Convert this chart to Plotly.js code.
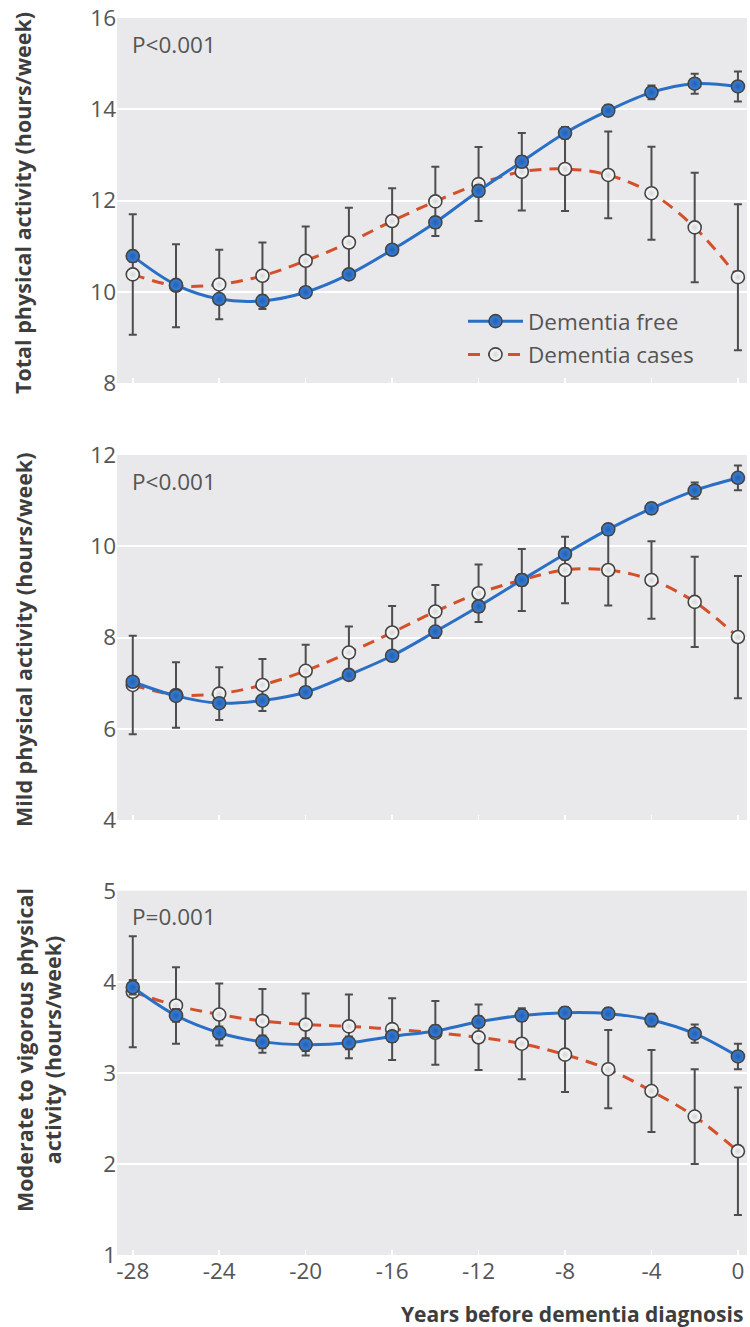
<!DOCTYPE html>
<html>
<head>
<meta charset="utf-8">
<script src="https://cdn.plot.ly/plotly-3.0.1.min.js"></script>
<style>html,body{margin:0;padding:0;background:#fff;}#chart{width:750px;height:1327px;}</style>
</head>
<body>
<div id="chart"></div>
<script>
var years = [-28,-26,-24,-22,-20,-18,-16,-14,-12,-10,-8,-6,-4,-2,0];
var xTicks = [-28,-24,-20,-16,-12,-8,-4,0];

var totalFree     = [10.78,10.15,9.84,9.80,9.99,10.38,10.92,11.52,12.21,12.85,13.48,13.97,14.37,14.56,14.50];
var totalFreeErr  = [0.12,0.10,0.10,0.12,0.10,0.10,0.10,0.12,0.12,0.12,0.12,0.12,0.15,0.22,0.33];
var totalCases    = [10.38,10.13,10.16,10.35,10.68,11.08,11.55,11.98,12.36,12.63,12.69,12.56,12.16,11.41,10.32];
var totalCasesErr = [1.32,0.91,0.76,0.73,0.75,0.76,0.72,0.76,0.81,0.85,0.92,0.95,1.02,1.20,1.60];

var mildFree      = [7.03,6.72,6.56,6.62,6.80,7.18,7.60,8.13,8.68,9.26,9.83,10.37,10.83,11.22,11.50];
var mildFreeErr   = [0.10,0.10,0.10,0.10,0.10,0.10,0.10,0.10,0.12,0.12,0.12,0.12,0.12,0.18,0.27];
var mildCases     = [6.96,6.74,6.77,6.96,7.27,7.67,8.11,8.57,8.97,9.26,9.48,9.48,9.26,8.78,8.01];
var mildCasesErr  = [1.08,0.72,0.58,0.57,0.57,0.57,0.58,0.58,0.63,0.68,0.73,0.78,0.85,0.99,1.34];

var modFree       = [3.94,3.63,3.44,3.34,3.31,3.33,3.40,3.46,3.56,3.63,3.66,3.65,3.58,3.43,3.18];
var modFreeErr    = [0.08,0.07,0.07,0.07,0.07,0.07,0.06,0.06,0.06,0.06,0.06,0.06,0.07,0.10,0.14];
var modCases      = [3.89,3.74,3.64,3.57,3.53,3.51,3.48,3.44,3.39,3.32,3.20,3.04,2.80,2.52,2.14];
var modCasesErr   = [0.61,0.42,0.34,0.35,0.34,0.35,0.34,0.35,0.36,0.39,0.41,0.43,0.45,0.52,0.70];

var seriesNames = ['Dementia free','Dementia cases'];
var yTitles = ['Total physical activity (hours/week)','Mild physical activity (hours/week)','Moderate to vigorous physical<br>activity (hours/week)'];
var pTexts = ['P&lt;0.001','P&lt;0.001','P=0.001'];
var xTitle = 'Years before dementia diagnosis';

var FONT = 'Open Sans, Lato, sans-serif';
var BLUE = '#2a6fc6';
var RED = '#d4502a';
var ERR = '#4d4d4d';
var TXT = '#555555';

function casesTrace(y, e, ax, show) {
  return {
    x: years, y: y, xaxis: 'x' + ax, yaxis: 'y' + ax,
    type: 'scatter', mode: 'lines+markers', name: seriesNames[1],
    legendgroup: 'cases', legendrank: 2, showlegend: show,
    line: {color: RED, width: 3, dash: '12px,8px', shape: 'spline', smoothing: 1},
    marker: {size: 13, color: '#ffffff', gradient: {type: 'radial', color: '#d6d6d6'}, line: {color: '#444', width: 1.6}},
    error_y: {type: 'data', array: e, visible: true, color: ERR, thickness: 2, width: 4}
  };
}
function freeTrace(y, e, ax, show) {
  return {
    x: years, y: y, xaxis: 'x' + ax, yaxis: 'y' + ax,
    type: 'scatter', mode: 'lines+markers', name: seriesNames[0],
    legendgroup: 'free', legendrank: 1, showlegend: show,
    line: {color: BLUE, width: 3, shape: 'spline', smoothing: 1},
    marker: {size: 13, color: '#3a80d8', gradient: {type: 'radial', color: '#2260b4'}, line: {color: '#444', width: 1.6}},
    error_y: {type: 'data', array: e, visible: true, color: ERR, thickness: 2, width: 4}
  };
}

var data = [
  casesTrace(totalCases, totalCasesErr, '', true),
  freeTrace(totalFree, totalFreeErr, '', true),
  casesTrace(mildCases, mildCasesErr, '2', false),
  freeTrace(mildFree, mildFreeErr, '2', false),
  casesTrace(modCases, modCasesErr, '3', false),
  freeTrace(modFree, modFreeErr, '3', false)
];

var L = 117, R = 747, T = 18, B = 1255, H = 1327;
var pw = R - L, ph = B - T;
function py(pix) { return (B - pix) / ph; }
function px(pix) { return (pix - L) / pw; }

var xRange = [-28.73, 0.42];
function xAxis(showLabels, anchor) {
  return {
    range: xRange, anchor: anchor, tickvals: xTicks, ticktext: xTicks.map(String),
    showticklabels: showLabels, ticks: 'inside', ticklen: 5, tickwidth: 1.5, tickcolor: '#ffffff',
    showgrid: false, zeroline: false, showline: false,
    tickfont: {family: FONT, size: 22.5, color: TXT}, fixedrange: true
  };
}
function yAxis(range, dtick, dom, anchor) {
  return {
    range: range, dtick: dtick, domain: dom, anchor: anchor,
    showgrid: true, gridcolor: '#ffffff', gridwidth: 2, zeroline: false, showline: false,
    ticks: '', tickfont: {family: FONT, size: 22.5, color: TXT}, fixedrange: true
  };
}

var titleFont = {family: FONT, size: 21.5, color: '#3d3d3d'};
var annotations = [
  {xref: 'paper', yref: 'paper', x: px(23), y: py(203), text: '<b>' + yTitles[0] + '</b>', textangle: -90, showarrow: false, xanchor: 'center', yanchor: 'middle', font: titleFont},
  {xref: 'paper', yref: 'paper', x: px(23), y: py(640), text: '<b>' + yTitles[1] + '</b>', textangle: -90, showarrow: false, xanchor: 'center', yanchor: 'middle', font: titleFont},
  {xref: 'paper', yref: 'paper', x: px(38), y: py(1050), text: '<b>' + yTitles[2] + '</b>', textangle: -90, showarrow: false, xanchor: 'center', yanchor: 'middle', font: titleFont},
  {xref: 'paper', yref: 'paper', x: px(745), y: py(1314), text: '<b>' + xTitle + '</b>', showarrow: false, xanchor: 'right', yanchor: 'middle', font: {family: FONT, size: 21, color: '#3d3d3d'}},
  {xref: 'paper', yref: 'paper', x: px(130), y: py(45), text: pTexts[0], showarrow: false, xanchor: 'left', yanchor: 'middle', font: {family: FONT, size: 22.5, color: TXT}},
  {xref: 'paper', yref: 'paper', x: px(130), y: py(482), text: pTexts[1], showarrow: false, xanchor: 'left', yanchor: 'middle', font: {family: FONT, size: 22.5, color: TXT}},
  {xref: 'paper', yref: 'paper', x: px(130), y: py(916), text: pTexts[2], showarrow: false, xanchor: 'left', yanchor: 'middle', font: {family: FONT, size: 22.5, color: TXT}}
];

var layout = {
  width: 750, height: 1327,
  margin: {l: L, r: 750 - R, t: T, b: H - B, pad: 0},
  paper_bgcolor: '#ffffff', plot_bgcolor: '#e9e9eb',
  showlegend: true,
  legend: {
    x: px(463), y: py(300), xanchor: 'left', yanchor: 'top',
    bgcolor: 'rgba(0,0,0,0)', borderwidth: 0, itemwidth: 55, tracegroupgap: 1,
    font: {family: FONT, size: 22.5, color: TXT}, itemclick: false, itemdoubleclick: false
  },
  xaxis: xAxis(false, 'y'),
  xaxis2: xAxis(false, 'y2'),
  xaxis3: xAxis(true, 'y3'),
  yaxis: yAxis([8, 16], 2, [py(383), py(18)], 'x'),
  yaxis2: yAxis([4, 12], 2, [py(820), py(455)], 'x2'),
  yaxis3: yAxis([1, 5], 1, [py(1255), py(890.7)], 'x3'),
  annotations: annotations
};

Plotly.newPlot('chart', data, layout, {displayModeBar: false, staticPlot: true});
</script>
</body>
</html>
